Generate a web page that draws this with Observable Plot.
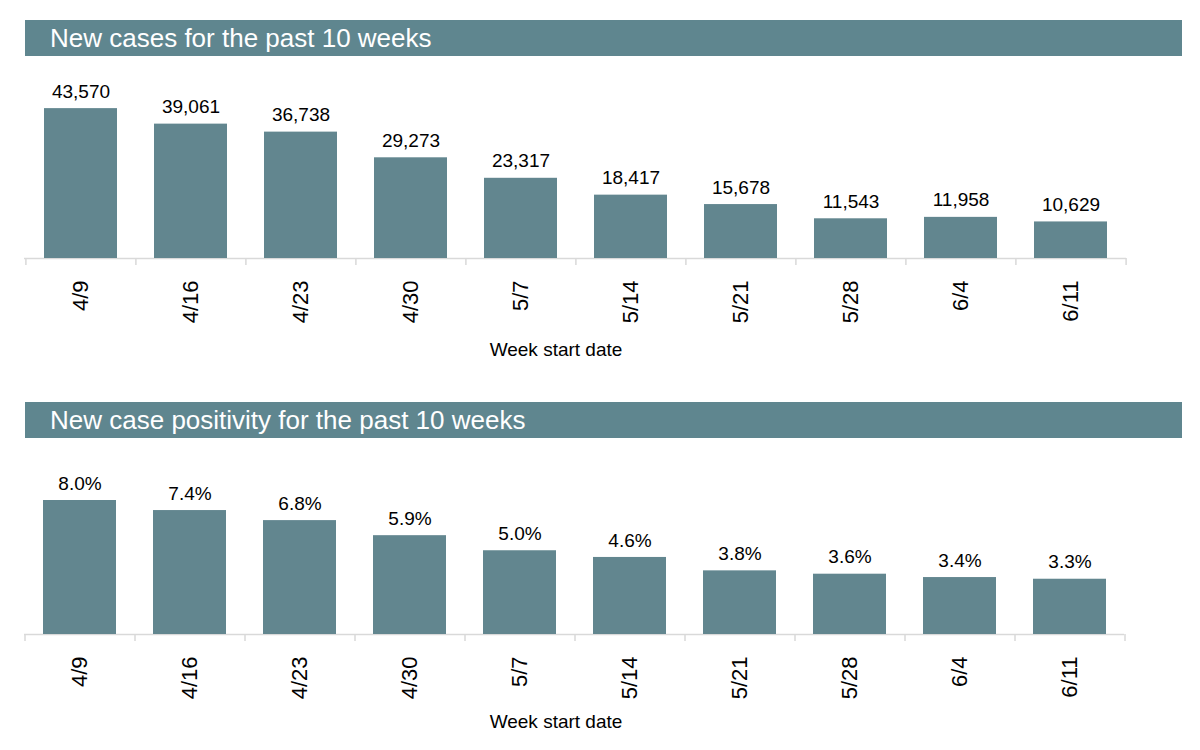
<!DOCTYPE html>
<html><head><meta charset="utf-8">
<script src="https://cdn.jsdelivr.net/npm/d3@7"></script>
<script src="https://cdn.jsdelivr.net/npm/@observablehq/plot@0.6"></script>
<style>
body{margin:0;background:#fff;font-family:"Liberation Sans",Arial,sans-serif;}
#wrap{position:relative;width:1200px;height:750px;overflow:hidden;}
.title{position:absolute;left:25px;width:1157px;height:36px;background:#5f868f;color:#fff;font-size:26px;line-height:36px;padding-left:25px;box-sizing:border-box;white-space:nowrap;}
.plot{position:absolute;left:0;}
.xlabel{position:absolute;font-size:19px;line-height:22px;color:#000;transform:translateX(-50%);white-space:nowrap;}
</style></head><body><div id="wrap"></div>
<script>
const weeks = ["4/9","4/16","4/23","4/30","5/7","5/14","5/21","5/28","6/4","6/11"];
const newCases = [43570, 39061, 36738, 29273, 23317, 18417, 15678, 11543, 11958, 10629];
const positivity = [8.0, 7.4, 6.8, 5.9, 5.0, 4.6, 3.8, 3.6, 3.4, 3.3];
const titles = ["New cases for the past 10 weeks", "New case positivity for the past 10 weeks"];
const axisTitle = "Week start date";

const BAR = "#62868f";
const GRID = "#d9d9d9";
const wrap = document.getElementById("wrap");

function addTitle(text, top){
  const d = document.createElement("div");
  d.className = "title"; d.style.top = top + "px"; d.textContent = text;
  wrap.appendChild(d);
}
function addXLabel(text, top, cx){
  const d = document.createElement("div");
  d.className = "xlabel"; d.style.top = top + "px"; d.style.left = cx + "px"; d.textContent = text;
  wrap.appendChild(d);
}

function barPanel({values, fmt, yMax, top, height, marginTop, marginBottom, marginRight}){
  const data = weeks.map((w,i)=>({week:w, value:values[i]}));
  const marginLeft = 24;
  const step = (1200 - marginLeft - marginRight) / weeks.length;
  const chart = Plot.plot({
    width:1200, height, marginLeft, marginRight, marginTop, marginBottom,
    style:{fontFamily:'"Liberation Sans",Arial,sans-serif', background:"transparent", overflow:"visible", color:"#000"},
    x:{domain:weeks, paddingInner:0.34, paddingOuter:0.17, label:null},
    y:{domain:[0,yMax], axis:null},
    marks:[
      Plot.ruleY([0], {stroke:GRID, strokeWidth:1.5}),
      Plot.ruleX(weeks, {x:d=>d, y1:0, y2:0, insetBottom:-7, dx:-step/2, stroke:GRID, strokeWidth:1.5}),
      Plot.ruleX([weeks[weeks.length-1]], {x:d=>d, y1:0, y2:0, insetBottom:-7, dx:step/2, stroke:GRID, strokeWidth:1.5}),
      Plot.barY(data, {x:"week", y:"value", fill:BAR}),
      Plot.text(data, {x:"week", y:"value", text:d=>fmt(d.value), dy:-17, fontSize:19, fill:"#000"}),
      Plot.axisX({tickRotate:-90, tickSize:0, tickPadding:22, fontSize:22, label:null, fill:"#000"})
    ]
  });
  chart.classList.add("plot");
  chart.style.top = top + "px";
  wrap.appendChild(chart);
}

addTitle(titles[0], 20);
barPanel({values:newCases, fmt:d3.format(","), yMax:50000, top:60, height:320, marginTop:26, marginBottom:122, marginRight:74});
addXLabel(axisTitle, 339, 556);

addTitle(titles[1], 402);
barPanel({values:positivity, fmt:d=>d.toFixed(1)+"%", yMax:10, top:440, height:310, marginTop:26.5, marginBottom:116, marginRight:76});
addXLabel(axisTitle, 711, 556);
</script>
</body></html>
